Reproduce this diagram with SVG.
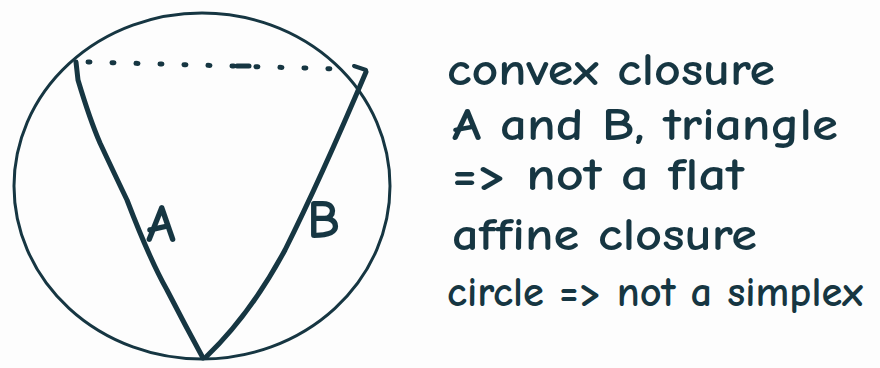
<svg xmlns="http://www.w3.org/2000/svg" width="880" height="368" viewBox="0 0 880 368">
<style>
.ink{fill:none;stroke:#163642;stroke-linecap:round;stroke-linejoin:round}
.t{font-family:"Comic Neue","DejaVu Sans","Liberation Sans",sans-serif;font-size:46px;fill:#163642;font-weight:bold}
.lbl{font-family:"Comic Neue","DejaVu Sans","Liberation Sans",sans-serif;font-size:54px;fill:#163642;font-weight:bold}
</style>
<rect width="880" height="368" fill="#fdfdfd"/>
<g id="circle"><ellipse class="ink" cx="202" cy="186" rx="188" ry="173" stroke-width="3"/></g>
<g id="triangle">
<path class="ink" d="M76 62 L78 80 Q90 120 100 143 Q115 175 127 200 Q150 260 167 290 Q185 325 203 358" stroke-width="5"/>
<path class="ink" d="M366 72 Q320 180 285 250 Q250 315 206 357" stroke-width="5"/>
<path class="ink" d="M88 62 L340 69" stroke-width="5" stroke-dasharray="2 22"/>
<path class="ink" d="M237 66 L249 66" stroke-width="5"/>
<path class="ink" d="M354 66 L366 70" stroke-width="4"/>
</g>
<g id="labels">
<text class="lbl" x="146" y="242">A</text>
<text class="lbl" x="307" y="238">B</text>
</g>
<g id="notes">
<text class="t" x="447" y="85" textLength="328" lengthAdjust="spacingAndGlyphs">convex closure</text>
<text class="t" x="452" y="140" textLength="386" lengthAdjust="spacingAndGlyphs">A and B, triangle</text>
<text class="t" x="452" y="190" textLength="292" lengthAdjust="spacingAndGlyphs">=&gt; not a flat</text>
<text class="t" x="452" y="250" textLength="305" lengthAdjust="spacingAndGlyphs">affine closure</text>
<text class="t" x="447" y="306" style="font-size:42px" textLength="416" lengthAdjust="spacingAndGlyphs">circle =&gt; not a simplex</text>
</g>
</svg>
